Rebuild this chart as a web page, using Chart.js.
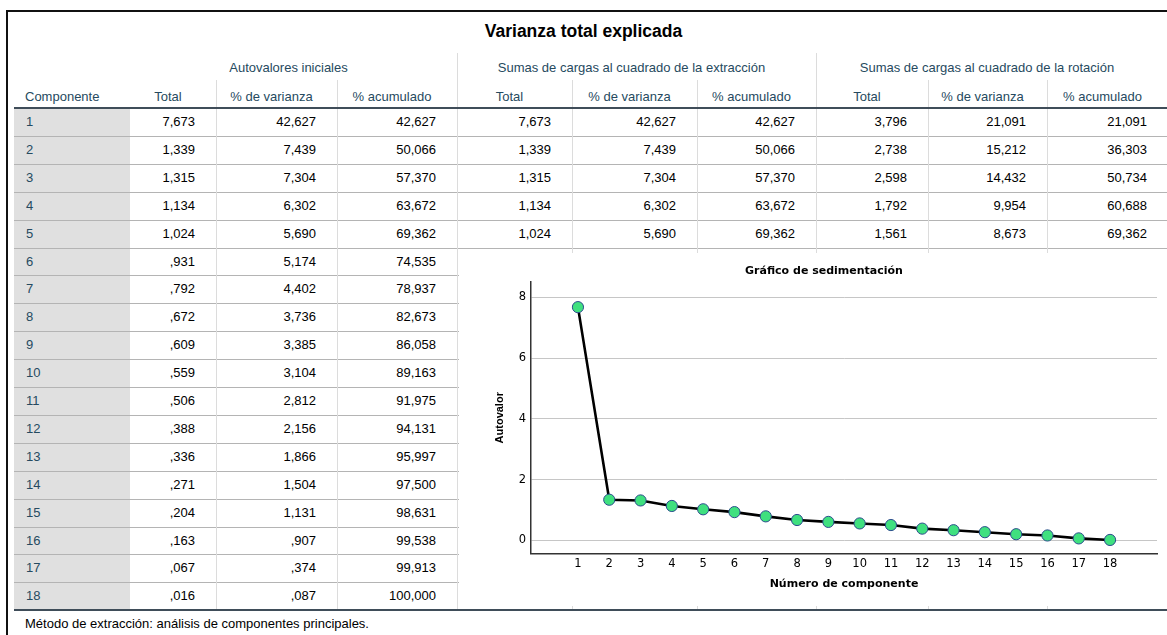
<!DOCTYPE html>
<html>
<head>
<meta charset="utf-8">
<script src="https://cdn.jsdelivr.net/npm/chart.js@4.4.1/dist/chart.umd.min.js"></script>
<style>
  html, body { margin: 0; padding: 0; background: #fff; overflow: hidden; }
  body { width: 1167px; height: 635px; position: relative; font-family: "Liberation Sans", Arial, sans-serif; }
  .ln { position: absolute; }
  .tx { position: absolute; white-space: nowrap; font-size: 13px; line-height: 16px; height: 16px; box-sizing: border-box; }
  #scree { position: absolute; left: 459px; top: 253px; background: #fff; }
</style>
</head>
<body>
<div id="sheet"></div>
<canvas id="scree" width="708" height="353"></canvas>
<script>
// ---- texts ----
const tableTitle = 'Varianza total explicada';
const rowHeader = 'Componente';
const groupHeaders = ['Autovalores iniciales', 'Sumas de cargas al cuadrado de la extracción', 'Sumas de cargas al cuadrado de la rotación'];
const columnHeaders = ['Total', '% de varianza', '% acumulado'];
const footnote = 'Método de extracción: análisis de componentes principales.';
const chartTitle = 'Gráfico de sedimentación';
const xAxisTitle = 'Número de componente';
const yAxisTitle = 'Autovalor';

// ---- values ----
const components = [1, 2, 3, 4, 5, 6, 7, 8, 9, 10, 11, 12, 13, 14, 15, 16, 17, 18];
const initTotal = [7.673, 1.339, 1.315, 1.134, 1.024, 0.931, 0.792, 0.672, 0.609, 0.559, 0.506, 0.388, 0.336, 0.271, 0.204, 0.163, 0.067, 0.016];
const initVar = [42.627, 7.439, 7.304, 6.302, 5.690, 5.174, 4.402, 3.736, 3.385, 3.104, 2.812, 2.156, 1.866, 1.504, 1.131, 0.907, 0.374, 0.087];
const initCum = [42.627, 50.066, 57.370, 63.672, 69.362, 74.535, 78.937, 82.673, 86.058, 89.163, 91.975, 94.131, 95.997, 97.500, 98.631, 99.538, 99.913, 100.000];
const extTotal = [7.673, 1.339, 1.315, 1.134, 1.024];
const extVar = [42.627, 7.439, 7.304, 6.302, 5.690];
const extCum = [42.627, 50.066, 57.370, 63.672, 69.362];
const rotTotal = [3.796, 2.738, 2.598, 1.792, 1.561];
const rotVar = [21.091, 15.212, 14.432, 9.954, 8.673];
const rotCum = [21.091, 36.303, 50.734, 60.688, 69.362];
const xTicks = [1, 2, 3, 4, 5, 6, 7, 8, 9, 10, 11, 12, 13, 14, 15, 16, 17, 18];
const yTicks = [0, 2, 4, 6, 8];

// ---- table geometry ----
const colEdges = [14, 130, 216, 337, 457, 572, 697, 816, 928, 1047, 1168];
const GROUP_TOP = 53, COLHEAD_TOP = 80, BODY_TOP = 108, ROW_H = 27.9;
const rowY = i => Math.round(BODY_TOP + i * ROW_H);
const BODY_BOTTOM = rowY(components.length);
const HEAD_COLOR = '#264a60';
const sheet = document.getElementById('sheet');

function box(x, y, w, h, color) {
  const d = document.createElement('div');
  d.className = 'ln';
  Object.assign(d.style, { left: x + 'px', top: y + 'px', width: w + 'px', height: h + 'px', background: color });
  sheet.appendChild(d);
}
function label(str, x, w, cy, align, opts = {}) {
  const d = document.createElement('div');
  d.className = 'tx';
  d.textContent = str;
  const size = opts.size || 13;
  const lh = Math.round(size * 1.25);
  Object.assign(d.style, {
    left: x + 'px', width: w + 'px', top: Math.round(cy - lh / 2) + 'px',
    textAlign: align, color: opts.color || '#000',
    fontSize: size + 'px', lineHeight: lh + 'px', height: lh + 'px',
    fontWeight: opts.bold ? 'bold' : 'normal',
    paddingLeft: (opts.pl || 0) + 'px', paddingRight: (opts.pr || 0) + 'px'
  });
  sheet.appendChild(d);
}
function fmt(v) {
  return v.toFixed(3).replace('.', ',').replace(/^0,/, ',');
}

// outer frame
box(6, 10, 1161, 2, '#111');
box(6, 10, 2, 625, '#111');

// title
label(tableTitle, 7, 1153, 31, 'center', { size: 17.5, bold: true });

// shaded row-header column
box(colEdges[0], BODY_TOP, colEdges[1] - colEdges[0], BODY_BOTTOM - BODY_TOP, '#e0e0e0');

// row separators
for (let i = 1; i < components.length; i++) {
  box(colEdges[0], rowY(i), colEdges[10] - colEdges[0], 1, '#b4b4b4');
}
// vertical column lines
for (let c = 2; c < 10; c++) {
  const top = (c === 4 || c === 7) ? GROUP_TOP : COLHEAD_TOP;
  box(colEdges[c], top, 1, BODY_BOTTOM - top, '#dcdcdc');
}
// header and bottom rules
box(colEdges[0], BODY_TOP - 1, colEdges[10] - colEdges[0], 2, '#3f4d59');
box(colEdges[0], BODY_BOTTOM - 1, colEdges[10] - colEdges[0], 2, '#3f4d59');

// group headers
for (let g = 0; g < 3; g++) {
  const l = colEdges[1 + g * 3], r = colEdges[4 + g * 3];
  label(groupHeaders[g], l, r - l, 68, 'center', { color: HEAD_COLOR, pl: 2, pr: 12 });
}
// column headers
label(rowHeader, colEdges[0], colEdges[1] - colEdges[0], 97, 'left', { color: HEAD_COLOR, pl: 11 });
for (let c = 1; c < 10; c++) {
  const l = colEdges[c], r = colEdges[c + 1];
  label(columnHeaders[(c - 1) % 3], l, r - l, 97, 'center', { color: HEAD_COLOR, pl: 2, pr: 12 });
}

// body
const columns = [initTotal, initVar, initCum, extTotal, extVar, extCum, rotTotal, rotVar, rotCum];
components.forEach((comp, i) => {
  const cy = (rowY(i) + rowY(i + 1)) / 2;
  label(String(comp), colEdges[0], colEdges[1] - colEdges[0], cy, 'left', { color: HEAD_COLOR, pl: 12 });
  columns.forEach((arr, c) => {
    if (i >= arr.length) return;
    const l = colEdges[c + 1], r = colEdges[c + 2];
    label(fmt(arr[i]), l, r - l, cy, 'right', { pr: 21 });
  });
});

// footnote
label(footnote, colEdges[0], 600, BODY_BOTTOM + 14, 'left', { pl: 11 });

// ---- scree plot ----
const wideFont = 'DejaVu Sans';
new Chart(document.getElementById('scree').getContext('2d'), {
  type: 'line',
  data: {
    datasets: [{
      data: components.map((c, i) => ({ x: c, y: initTotal[i] })),
      borderColor: '#000',
      borderWidth: 2.6,
      tension: 0,
      pointRadius: 5.6,
      pointBackgroundColor: '#3fe07f',
      pointBorderColor: '#2b4c8c',
      pointBorderWidth: 1
    }]
  },
  options: {
    responsive: false,
    animation: false,
    devicePixelRatio: 1,
    layout: { padding: { left: 32, right: 10, top: 0, bottom: 0 } },
    plugins: {
      legend: { display: false },
      tooltip: { enabled: false },
      title: {
        display: true, text: chartTitle, color: '#000',
        font: { family: wideFont, size: 11, weight: 'bold' },
        padding: { top: 11.4, bottom: 4.4 }
      }
    },
    scales: {
      x: {
        type: 'linear', min: -0.5, max: 19.5,
        afterBuildTicks: s => { s.ticks = xTicks.map(v => ({ value: v })); },
        afterFit: s => { s.height = 52.5; },
        grid: { color: 'rgba(0,0,0,0)', drawTicks: false },
        border: { display: true, color: '#333', width: 1.5 },
        ticks: { color: '#000', padding: 4, autoSkip: false, maxRotation: 0, font: { family: wideFont, size: 11.5 }, callback: v => String(v) },
        title: { display: true, text: xAxisTitle, color: '#000', font: { family: wideFont, size: 11, weight: 'bold' }, padding: { top: 0, bottom: 15.4 } }
      },
      y: {
        type: 'linear', min: -0.43, max: 8.5,
        afterBuildTicks: s => { s.ticks = yTicks.map(v => ({ value: v })); },
        afterFit: s => { s.width = 40; },
        grid: { color: '#c6c6c6', lineWidth: 1, drawTicks: false },
        border: { display: true, color: '#333', width: 1.5 },
        ticks: { color: '#000', padding: 5, font: { family: wideFont, size: 11.5 }, callback: v => String(v) },
        title: { display: true, text: yAxisTitle, color: '#000', font: { family: 'Liberation Sans', size: 11, weight: 'bold' }, padding: { top: 2.4, bottom: 0 } }
      }
    }
  }
});
</script>
</body>
</html>
